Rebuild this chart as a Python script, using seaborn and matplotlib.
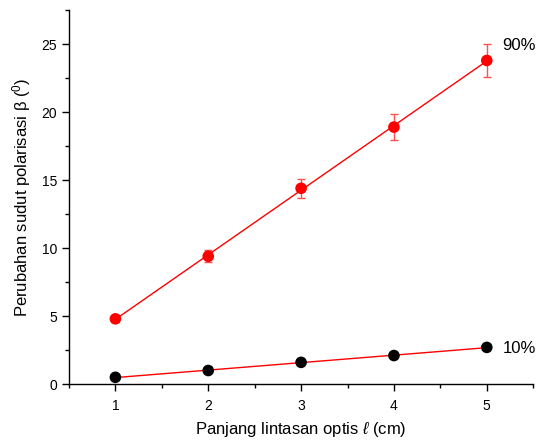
import numpy as np
import pandas as pd
import seaborn as sns
import matplotlib.pyplot as plt
from matplotlib.ticker import MultipleLocator

# data
panjang = [1, 2, 3, 4, 5]
beta_90 = [4.8, 9.4, 14.4, 18.9, 23.8]
err_90 = [0.2, 0.45, 0.7, 0.95, 1.2]
beta_10 = [0.5, 1.0, 1.6, 2.1, 2.7]
series_labels = ["90%", "10%"]

df = pd.DataFrame({"x": panjang, "b90": beta_90, "e90": err_90, "b10": beta_10})

sns.set_style("ticks")
plt.rcParams["font.family"] = ["Liberation Sans", "DejaVu Sans"]
plt.rcParams["mathtext.fontset"] = "custom"
plt.rcParams["mathtext.rm"] = "Liberation Sans"
plt.rcParams["mathtext.it"] = "Liberation Sans:italic"
plt.rcParams["text.color"] = "black"
plt.rcParams["axes.labelcolor"] = "black"

fig = plt.figure(figsize=(5.43, 4.41), dpi=100)
ax = fig.add_axes([0.127, 0.129, 0.855, 0.848])

# fitted lines
sns.regplot(data=df, x="x", y="b90", ax=ax, scatter=False, ci=None, truncate=True,
            line_kws={"color": "red", "lw": 1})
sns.regplot(data=df, x="x", y="b10", ax=ax, scatter=False, ci=None, truncate=True,
            line_kws={"color": "red", "lw": 1})

# error bars + markers
ax.errorbar(df["x"], df["b90"], yerr=df["e90"], fmt="none", ecolor="#ff5050",
            elinewidth=1, capsize=3, capthick=1, zorder=3)
sns.scatterplot(data=df, x="x", y="b90", ax=ax, color="red", s=70, edgecolor="none", zorder=4)
sns.scatterplot(data=df, x="x", y="b10", ax=ax, color="black", s=70, edgecolor="none", zorder=4)

ax.text(5.17, 24.9, series_labels[0], fontsize=12, va="center", ha="left", clip_on=False)
ax.text(5.17, 2.65, series_labels[1], fontsize=12, va="center", ha="left", clip_on=False)

ax.set_xlim(0.5, 5.5)
ax.set_ylim(0, 27.5)
ax.xaxis.set_major_locator(MultipleLocator(1))
ax.xaxis.set_minor_locator(MultipleLocator(0.5))
ax.yaxis.set_major_locator(MultipleLocator(5))
ax.yaxis.set_minor_locator(MultipleLocator(2.5))
ax.tick_params(which="major", length=5, width=1, labelsize=10, colors="black")
ax.tick_params(which="minor", length=3, width=1, colors="black")
ax.tick_params(axis="x", pad=6)

ax.set_xlabel(r"Panjang lintasan optis $\mathit{ℓ}$ (cm)", fontsize=12, labelpad=5)
ax.set_ylabel(r"Perubahan sudut polarisasi β ($^{\mathrm{0}}$)", fontsize=12, labelpad=6)

sns.despine(ax=ax)
for s in ["left", "bottom"]:
    ax.spines[s].set_color("black")
    ax.spines[s].set_linewidth(1)

fig.savefig("out.png", dpi=100)
